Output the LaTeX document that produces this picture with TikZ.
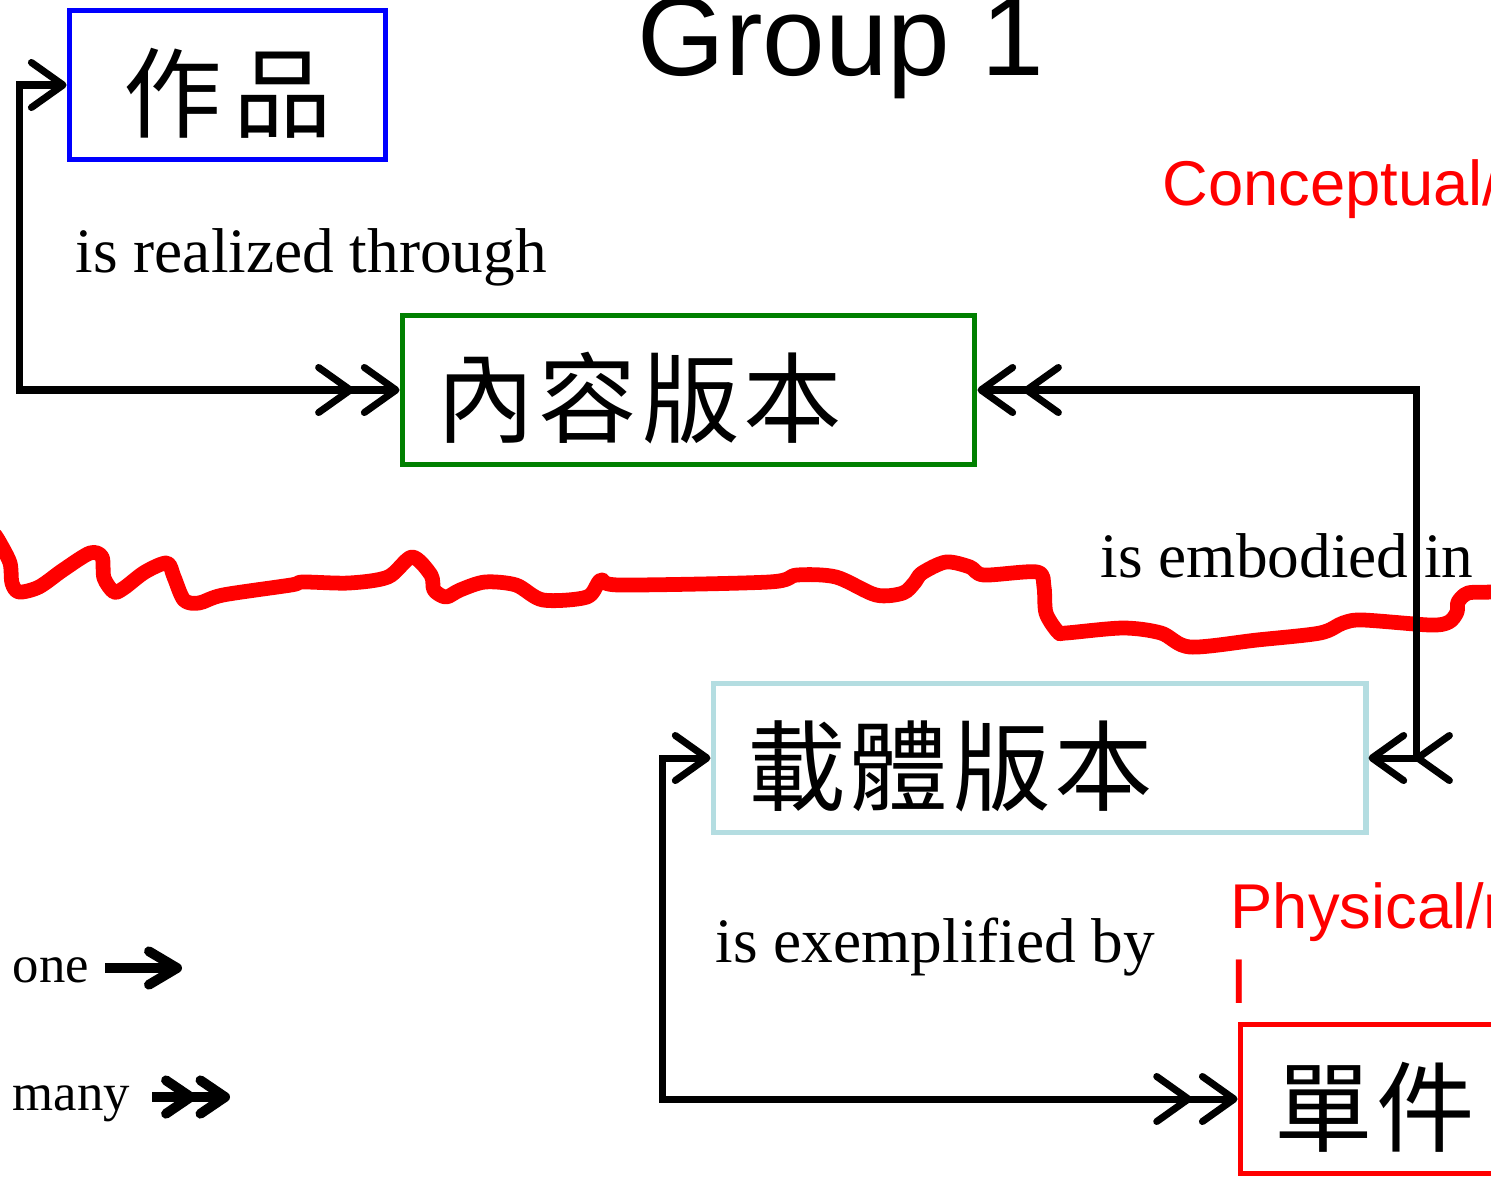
\documentclass[tikz,border=0pt]{standalone}
\usepackage{fontspec}
\setmainfont{Liberation Serif}
\newfontfamily\arial{Liberation Sans}
\newfontfamily\cjk[LetterSpace=4]{Noto Sans CJK TC}
\usetikzlibrary{arrows.meta}
\definecolor{exprgreen}{HTML}{008000}
\definecolor{itemblue}{HTML}{B4DDE1}

\begin{document}
\begin{tikzpicture}[x=0.01cm, y=-0.01cm,
    onetip/.tip={Straight Barb[length=9pt,width=12.8pt,round]},
    manytip/.tip={Straight Barb[length=9pt,width=12.8pt,round,sep=2pt]Straight Barb[length=9pt,width=12.8pt,round]},
    entity/.style={draw, line width=1.6pt, minimum height=1.49cm, inner xsep=0.34cm, inner ysep=0pt,
      text height=0.91cm, text depth=0pt, font=\cjk\fontsize{28}{30}\selectfont},
    link/.style={line width=2pt},
    relname/.style={anchor=base west, inner sep=0pt, font=\fontsize{18}{22}\selectfont},
    keyname/.style={anchor=base west, inner sep=0pt, font=\fontsize{15}{18}\selectfont},
    realm/.style={anchor=base west, inner sep=0pt, text=red, font=\arial\fontsize{18}{21.3}\selectfont},
    cutline/.style={red, line width=4.2pt, line cap=round, line join=round}]
    \useasboundingbox (0,0) rectangle (1491,1178);
    \clip (0,0) rectangle (1491,1178);

    \draw[cutline] plot[smooth, tension=0.5] coordinates {(-5,535) (0,543) (10,563) (12,583) (19,592)
      (39,587) (63,570) (90,553) (102,557) (104,578) (114,592) (124,588) (145,572) (167,563)
      (174,577) (184,600) (199,603) (223,595) (291,585) (303,582) (349,583) (388,577) (412,557)
      (431,575) (434,590) (446,597) (460,590) (485,582) (516,585) (543,600) (587,597) (601,580)
      (620,585) (769,582) (797,575) (836,577) (876,595) (903,593) (915,582) (922,573) (946,562)
      (970,567) (984,575) (1037,572) (1044,587) (1046,613) (1058,632) (1066,633) (1123,628)
      (1161,633) (1190,647) (1257,640) (1320,633) (1343,623) (1363,620) (1430,625) (1449,622)
      (1457,612) (1458,602) (1468,593) (1491,592) (1510,590)};

    \node[anchor=base, inner sep=0pt, font=\arial\fontsize{32}{38}\selectfont] (title) at (841,75) {Group 1};
    \node[realm] (concept) at (1162,205) {Conceptual/};
    \node[realm, align=left] (physical) at (1230,1003) {Physical/m\\I};

    \node[entity, draw=blue, minimum width=3.16cm] (zuopin) at (227.5,85) {作\hspace{0.12cm}品};
    \node[entity, draw=exprgreen, text width=5.04cm, align=left] (neirong) at (688.5,390) {內容版本};
    \node[entity, draw=itemblue, text width=5.84cm, align=left] (zaiti) at (1039.5,758) {載體版本};
    \node[entity, draw=red, text width=2.27cm, align=left] (danjian) at (1388,1099) {單件};

    \node[relname] (realized) at (75,272) {is realized through};
    \node[relname] (embodied) at (1100,577) {is embodied in};
    \node[relname] (exemplified) at (715,962) {is exemplified by};

    \draw[link, onetip-manytip] (zuopin.west) -- ++(-47,0) |- (neirong.west);
    \draw[link, manytip-manytip] (neirong.east) -| ([xshift=0.48cm]zaiti.east) -- (zaiti.east);
    \draw[link, onetip-manytip] (zaiti.west) -- ++(-48,0) |- (danjian.west);

    \node[keyname] (one) at (12,982) {one};
    \node[keyname] (many) at (12,1110) {many};
    \coordinate (oneA) at (105,968);
    \coordinate (oneB) at (182,968);
    \coordinate (manyA) at (152,1097);
    \coordinate (manyB) at (230,1097);
    \draw[line width=2.8pt, -{Straight Barb[length=8pt,width=9.5pt,round]}] (oneA) -- (oneB);
    \draw[line width=2.8pt, -{Straight Barb[length=7pt,width=9.5pt,round,sep=0pt]Straight Barb[length=7pt,width=9.5pt,round]}] (manyA) -- (manyB);
\end{tikzpicture}
\end{document}
